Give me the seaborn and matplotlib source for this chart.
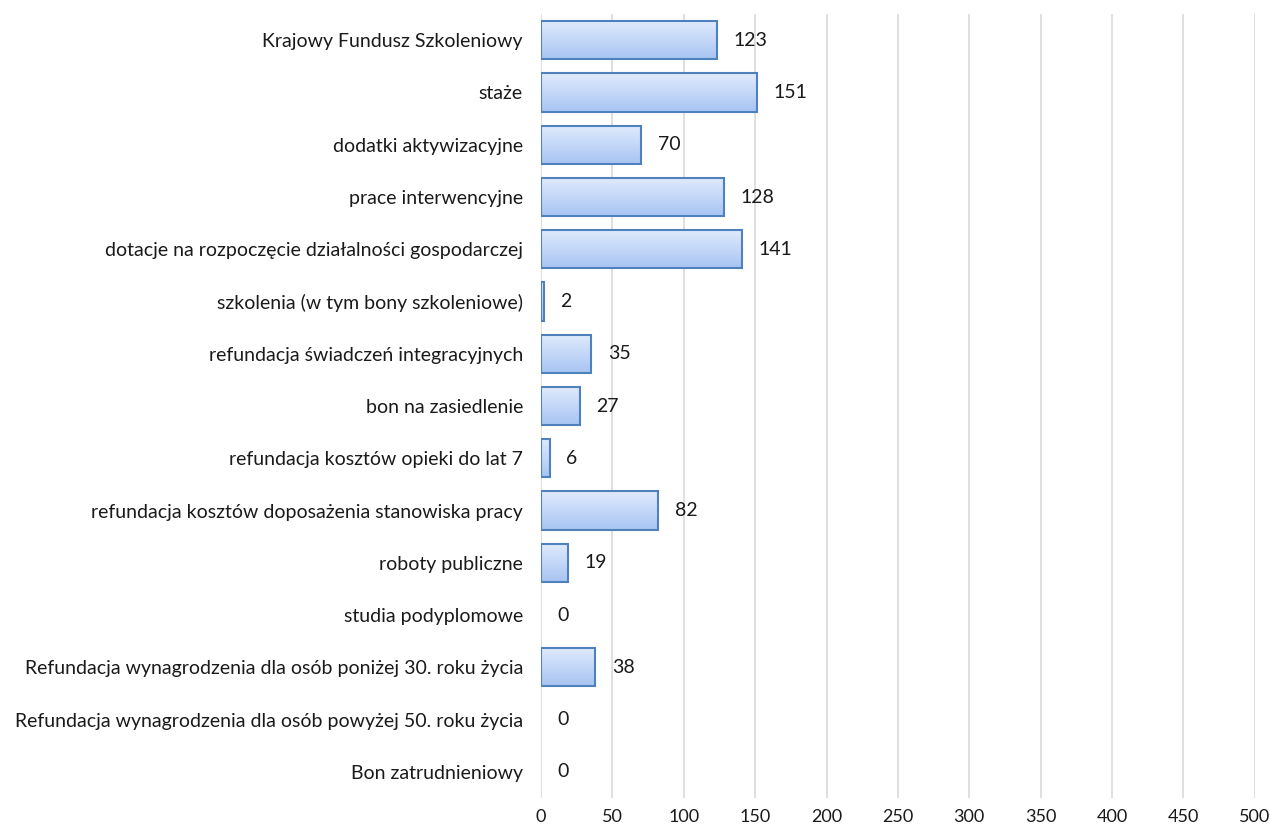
import matplotlib
matplotlib.use("Agg")
import matplotlib.pyplot as plt
import seaborn as sns
import numpy as np
import pandas as pd
from matplotlib.colors import LinearSegmentedColormap

categories = [
    "Krajowy Fundusz Szkoleniowy",
    "staże",
    "dodatki aktywizacyjne",
    "prace interwencyjne",
    "dotacje na rozpoczęcie działalności gospodarczej",
    "szkolenia (w tym bony szkoleniowe)",
    "refundacja świadczeń integracyjnych",
    "bon na zasiedlenie",
    "refundacja kosztów opieki do lat 7",
    "refundacja kosztów doposażenia stanowiska pracy",
    "roboty publiczne",
    "studia podyplomowe",
    "Refundacja wynagrodzenia dla osób poniżej 30. roku życia",
    "Refundacja wynagrodzenia dla osób powyżej 50. roku życia",
    "Bon zatrudnieniowy",
]
values = [123, 151, 70, 128, 141, 2, 35, 27, 6, 82, 19, 0, 38, 0, 0]
xticks = [0, 50, 100, 150, 200, 250, 300, 350, 400, 450, 500]

df = pd.DataFrame({"cat": categories, "val": values})

sns.set_theme(style="white")
plt.rcParams['font.family'] = ['Lato', 'DejaVu Sans']

fig = plt.figure(figsize=(12.7, 8.3), dpi=100)
ax = fig.add_axes([0.426, 0.0386, 0.562, 0.9444])

sns.barplot(data=df, x="val", y="cat", orient="h", ax=ax,
            color="#c5d9f7", edgecolor="#4f81bd", linewidth=1.5,
            width=0.73, saturation=1)

# gradient fill clipped to each bar (light at top, darker at bottom)
grad = np.linspace(0, 1, 256).reshape(-1, 1)
cmap = LinearSegmentedColormap.from_list("g", ["#a7c4f3", "#e1ebfc"])
for p in list(ax.patches):
    if p.get_width() <= 0:
        p.set_visible(False)
        continue
    x0, y0 = p.get_x(), p.get_y()
    w, h = p.get_width(), p.get_height()
    im = ax.imshow(grad, cmap=cmap, aspect="auto", origin="lower",
                   extent=[x0, x0 + w, y0 + h, y0], zorder=p.get_zorder() - 0.1,
                   interpolation="bicubic")
    im.set_clip_path(p)
    p.set_facecolor("none")

ax.set_xlim(0, 500)
ax.set_ylim(len(categories) - 0.5, -0.5)
ax.set_xticks(xticks)
ax.set_xticklabels([str(t) for t in xticks])
ax.xaxis.grid(True, color="#d9d9d9", linewidth=1.2)
ax.set_axisbelow(True)
for s in ax.spines.values():
    s.set_visible(False)
ax.set_xlabel("")
ax.set_ylabel("")
ax.tick_params(axis="y", length=0, pad=13, labelsize=14, labelcolor="#1a1a1a")
ax.tick_params(axis="x", length=0, pad=8, labelsize=13, labelcolor="#1a1a1a")

for i, v in enumerate(values):
    ax.annotate(str(v), xy=(v, i), xytext=(12, 0), textcoords="offset points",
                va="center", ha="left", fontsize=14, color="#1a1a1a")

fig.savefig("out.png", dpi=100, facecolor="white")
